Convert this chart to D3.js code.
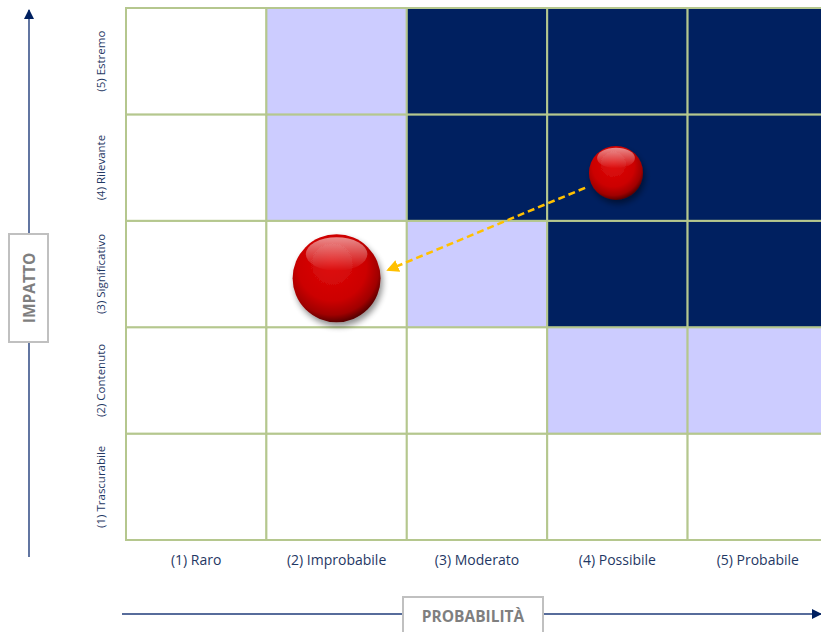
<!DOCTYPE html>
<html><head><meta charset="utf-8">
<script src="https://cdn.jsdelivr.net/npm/d3@7"></script>
<style>html,body{margin:0;padding:0;background:#fff;overflow:hidden}svg{display:block}</style>
</head><body>
<svg id="c" width="821" height="632"></svg>
<script>
const probLabels = ["(1) Raro","(2) Improbabile","(3) Moderato","(4) Possibile","(5) Probabile"];
const impactLabels = ["(1) Trascurabile","(2) Contenuto","(3) Significativo","(4) Rilevante","(5) Estremo"];
const levels = [1,2,3,4,5];
// cell risk class per impact row (1..5) and probability column (1..5): 0 low, 1 medium, 2 high
const row1 = [0,0,0,0,0];
const row2 = [0,0,0,1,1];
const row3 = [0,0,1,2,2];
const row4 = [0,1,2,2,2];
const row5 = [0,1,2,2,2];
const classColors = ["#ffffff","#ccccff","#002060"];
const bubbleProb = [3.99, 2.0];
const bubbleImpact = [3.95, 2.96];
const bubbleRadius = [27, 44];
const arrowFrom = [3.77, 3.81];
const arrowTo = [2.37, 3.04];

const svg = d3.select("#c");
const x = d3.scaleBand().domain(levels).range([126, 828]).padding(0);
const y = d3.scaleBand().domain(levels).range([540, 8]).padding(0);
const xl = d3.scaleLinear().domain([0.5,5.5]).range([126, 828]);
const yl = d3.scaleLinear().domain([0.5,5.5]).range([540, 8]);

const defs = svg.append("defs");
const g1 = defs.append("radialGradient").attr("id","ball").attr("cx","45%").attr("cy","40%").attr("r","60%").attr("fx","45%").attr("fy","30%");
g1.append("stop").attr("offset","0%").attr("stop-color","#e01010");
g1.append("stop").attr("offset","65%").attr("stop-color","#cc0000");
g1.append("stop").attr("offset","88%").attr("stop-color","#a00000");
g1.append("stop").attr("offset","100%").attr("stop-color","#5a0000");
const g2 = defs.append("linearGradient").attr("id","hl").attr("x1","0").attr("y1","0").attr("x2","0").attr("y2","1");
g2.append("stop").attr("offset","0%").attr("stop-color","#ffffff").attr("stop-opacity",0.55);
g2.append("stop").attr("offset","100%").attr("stop-color","#ffffff").attr("stop-opacity",0);
const f = defs.append("filter").attr("id","sh").attr("x","-30%").attr("y","-30%").attr("width","170%").attr("height","170%");
f.append("feGaussianBlur").attr("in","SourceAlpha").attr("stdDeviation",3);
f.append("feOffset").attr("dx",2).attr("dy",4).attr("result","b");
f.append("feComponentTransfer").append("feFuncA").attr("type","linear").attr("slope",0.45);
const m = f.append("feMerge"); m.append("feMergeNode"); m.append("feMergeNode").attr("in","SourceGraphic");
defs.append("marker").attr("id","ah").attr("viewBox","0 0 10 10").attr("refX",8).attr("refY",5)
  .attr("markerWidth",5).attr("markerHeight",5).attr("orient","auto")
  .append("path").attr("d","M0,0L10,5L0,10z").attr("fill","#ffc000");
defs.append("marker").attr("id","axh").attr("viewBox","0 0 10 10").attr("refX",9).attr("refY",5)
  .attr("markerWidth",11).attr("markerHeight",10).attr("markerUnits","userSpaceOnUse").attr("orient","auto")
  .append("path").attr("d","M0,0L10,5L0,10z").attr("fill","#002060");

// cells
const rows = [row1,row2,row3,row4,row5];
const cells = [];
rows.forEach((r,i)=>r.forEach((c,j)=>cells.push({imp:i+1,prob:j+1,c})));
svg.append("g").selectAll("rect").data(cells).join("rect")
  .attr("x",d=>x(d.prob)).attr("y",d=>y(d.imp))
  .attr("width",x.bandwidth()).attr("height",y.bandwidth())
  .attr("fill",d=>classColors[d.c]).attr("stroke","#b5c78e").attr("stroke-width",2);

// tick labels
svg.append("g").selectAll("text").data(levels).join("text")
  .attr("x",d=>x(d)+x.bandwidth()/2).attr("y",565).attr("text-anchor","middle")
  .attr("font-family","Open Sans, sans-serif").attr("font-size",14).attr("fill","#1f3864")
  .text(d=>probLabels[d-1]);
svg.append("g").selectAll("text").data(levels).join("text")
  .attr("transform",d=>`translate(105,${y(d)+y.bandwidth()/2}) rotate(-90)`)
  .attr("text-anchor","middle")
  .attr("font-family","Open Sans, sans-serif").attr("font-size",11.5).attr("fill","#1f3864")
  .text(d=>impactLabels[d-1]);

// axes arrows
svg.append("line").attr("x1",29).attr("y1",557).attr("x2",29).attr("y2",10)
  .attr("stroke","#1f3b7a").attr("stroke-width",1.4).attr("marker-end","url(#axh)");
svg.append("line").attr("x1",122).attr("y1",614).attr("x2",821).attr("y2",614)
  .attr("stroke","#1f3b7a").attr("stroke-width",1.4).attr("marker-end","url(#axh)");

// axis title boxes
svg.append("rect").attr("x",9).attr("y",234).attr("width",39).attr("height",108)
  .attr("fill","#fff").attr("stroke","#c0c0c0").attr("stroke-width",2);
svg.append("text").attr("transform","translate(34.5,288) rotate(-90)").attr("text-anchor","middle")
  .attr("font-family","Open Sans, sans-serif").attr("font-weight","bold").attr("font-size",15.5)
  .attr("fill","#7f7f7f").text("IMPATTO");
svg.append("rect").attr("x",403).attr("y",597).attr("width",140).attr("height",40)
  .attr("fill","#fff").attr("stroke","#c0c0c0").attr("stroke-width",2);
svg.append("text").attr("x",473).attr("y",622).attr("text-anchor","middle")
  .attr("font-family","Open Sans, sans-serif").attr("font-weight","bold").attr("font-size",15.5)
  .attr("fill","#7f7f7f").text("PROBABILITÀ");

// arrow
svg.append("line").attr("x1",xl(arrowFrom[0])).attr("y1",yl(arrowFrom[1]))
  .attr("x2",xl(arrowTo[0])).attr("y2",yl(arrowTo[1]))
  .attr("stroke","#ffc000").attr("stroke-width",2.5).attr("stroke-dasharray","7,4")
  .attr("marker-end","url(#ah)");

// bubbles
const bubbles = bubbleProb.map((p,i)=>({p,imp:bubbleImpact[i],r:bubbleRadius[i]}));
const bg = svg.append("g").selectAll("g").data(bubbles).join("g")
  .attr("transform",d=>`translate(${xl(d.p)},${yl(d.imp)})`);
bg.append("circle").attr("r",d=>d.r).attr("fill","url(#ball)").attr("filter","url(#sh)");
bg.append("ellipse").attr("cy",d=>-d.r*0.55).attr("rx",d=>d.r*0.7).attr("ry",d=>d.r*0.38)
  .attr("fill","url(#hl)");
</script>
</body></html>
